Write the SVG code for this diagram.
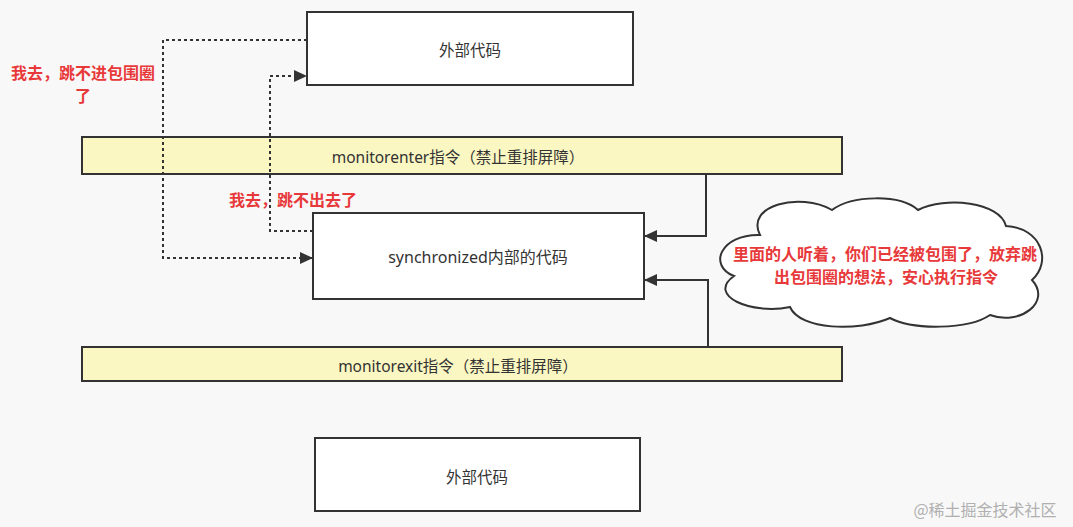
<svg xmlns="http://www.w3.org/2000/svg" width="1073" height="527" viewBox="0 0 1073 527">
<defs>
<style>
.box{fill:#ffffff;stroke:#333333;stroke-width:2}
.bar{fill:#fbf7c2;stroke:#333333;stroke-width:2}
.t{font-family:"Noto Sans","Noto Sans CJK SC",sans-serif;font-size:15.5px;fill:#333333;text-anchor:middle}
.red{font-family:"Noto Sans CJK SC","Noto Sans",sans-serif;font-size:16px;font-weight:bold;fill:#e8393a;text-anchor:middle}
.dot{fill:none;stroke:#333333;stroke-width:2;stroke-dasharray:3 3}
.sol{fill:none;stroke:#333333;stroke-width:2}
</style>
<marker id="ah" markerWidth="13" markerHeight="12" refX="12" refY="6" orient="auto" markerUnits="userSpaceOnUse">
<path d="M0,0 L13,6 L0,12 Z" fill="#333333"/>
</marker>
</defs>
<rect width="1073" height="527" fill="#f8f8f8"/>
<g id="outer-top">
<rect class="box" x="307" y="12" width="326" height="73"/>
<text class="t" x="470" y="56">外部代码</text>
</g>
<g id="monitorenter">
<rect class="bar" x="82" y="137" width="760" height="37"/>
<text class="t" x="458" y="163">monitorenter指令（禁止重排屏障）</text>
</g>
<g id="sync">
<rect class="box" x="313" y="213" width="331" height="86"/>
<text class="t" x="478" y="263" style="font-size:16px">synchronized内部的代码</text>
</g>
<g id="monitorexit">
<rect class="bar" x="82" y="347" width="760" height="34"/>
<text class="t" x="458" y="372">monitorexit指令（禁止重排屏障）</text>
</g>
<g id="outer-bottom">
<rect class="box" x="315" y="438" width="325" height="73"/>
<text class="t" x="477" y="483">外部代码</text>
</g>
<g id="connectors">
<path class="dot" d="M307,40 H163 V258 H312" marker-end="url(#ah)"/>
<path class="dot" d="M313,231 H270 V76 H306" marker-end="url(#ah)"/>
<path class="sol" d="M706,174 V236 H645" marker-end="url(#ah)"/>
<path class="sol" d="M708,347 V280 H645" marker-end="url(#ah)"/>
</g>
<g id="label-in">
<text class="red" x="83" y="79">我去，跳不进包围圈</text>
<text class="red" x="83" y="102">了</text>
</g>
<g id="label-out">
<text class="red" x="293" y="206">我去，跳不出去了</text>
</g>
<g id="cloud">
<path d="M760,235 C745,205 800,192 832,210 C852,195 900,194 918,210 C945,196 1000,202 1006,226 C1042,228 1052,262 1032,280 C1052,302 1020,326 990,315 C968,330 912,330 890,318 C858,332 800,330 790,307 C752,315 706,296 734,276 C708,266 720,234 760,235 Z" fill="#ffffff" stroke="#333333" stroke-width="2"/>
<text class="red" x="885" y="260">里面的人听着，你们已经被包围了，放弃跳</text>
<text class="red" x="886" y="283">出包围圈的想法，安心执行指令</text>
</g>
<text x="985" y="516" font-family="Noto Sans CJK SC,sans-serif" font-size="16" fill="#b0b0b0" text-anchor="middle">@稀土掘金技术社区</text>
</svg>
